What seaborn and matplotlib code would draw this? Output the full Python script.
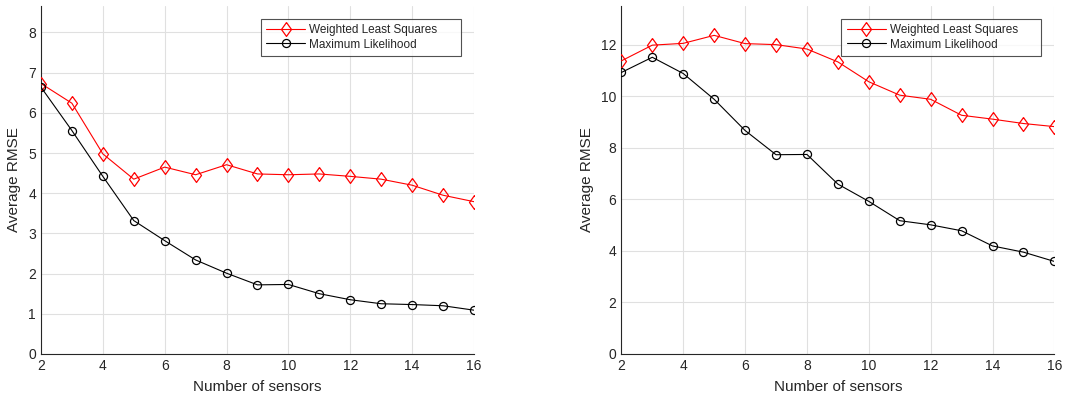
import numpy as np
import pandas as pd
import matplotlib
matplotlib.use("Agg")
import matplotlib.pyplot as plt
import seaborn as sns

sensors = list(range(2, 17))
wls_left = [6.73, 6.24, 4.98, 4.35, 4.65, 4.46, 4.71, 4.48, 4.46, 4.48, 4.42, 4.35, 4.20, 3.95, 3.79]
ml_left = [6.64, 5.56, 4.42, 3.32, 2.82, 2.34, 2.01, 1.72, 1.73, 1.50, 1.35, 1.25, 1.23, 1.20, 1.09]
wls_right = [11.37, 11.98, 12.05, 12.36, 12.04, 12.00, 11.83, 11.33, 10.56, 10.04, 9.88, 9.26, 9.11, 8.94, 8.82]
ml_right = [10.92, 11.51, 10.88, 9.88, 8.67, 7.73, 7.74, 6.59, 5.92, 5.17, 5.01, 4.78, 4.19, 3.95, 3.59]
series_names = ["Weighted Least Squares", "Maximum Likelihood"]
xticks = [2, 4, 6, 8, 10, 12, 14, 16]

sns.set_style("white")
plt.rcParams['font.family'] = ['Liberation Sans', 'DejaVu Sans']

diamond = [(0, 1), (0.72, 0), (0, -1), (-0.72, 0), (0, 1)]

fig = plt.figure(figsize=(10.78, 3.98), dpi=100)
ax1 = fig.add_axes([0.038, 0.1106, 0.4017, 0.8744])
ax2 = fig.add_axes([0.5764, 0.1106, 0.4017, 0.8744])

def draw(ax, wls, ml, ylim, yticks):
    df = pd.DataFrame({"x": sensors * 2,
                       "y": wls + ml,
                       "s": [series_names[0]] * len(sensors) + [series_names[1]] * len(sensors)})
    sns.lineplot(data=df[df.s == series_names[0]], x="x", y="y", ax=ax, color="#ff0000",
                 marker=diamond, markersize=10, markerfacecolor="none", markeredgecolor="#ff0000",
                 markeredgewidth=0.9, linewidth=0.8, label=series_names[0], zorder=3)
    sns.lineplot(data=df[df.s == series_names[1]], x="x", y="y", ax=ax, color="black",
                 marker="o", markersize=5.8, markerfacecolor="none", markeredgecolor="black",
                 markeredgewidth=0.9, linewidth=0.8, label=series_names[1], zorder=3)
    ax.set_xlim(2, 16)
    ax.set_ylim(*ylim)
    ax.set_xticks(xticks)
    ax.set_yticks(yticks)
    ax.grid(True, color="#e0e0e0", linewidth=0.8)
    ax.set_axisbelow(True)
    for s in ["top", "right"]:
        ax.spines[s].set_visible(False)
    for s in ["left", "bottom"]:
        ax.spines[s].set_color("#262626")
        ax.spines[s].set_linewidth(0.8)
    ax.tick_params(axis="both", labelsize=10, colors="#262626", direction="in", length=2, width=0.8)
    ax.set_xlabel("Number of sensors", fontsize=11, color="#262626", labelpad=5)
    ax.set_ylabel("Average RMSE", fontsize=11, color="#262626", labelpad=5)
    leg = ax.legend(loc="upper left", bbox_to_anchor=(0.508, 0.856, 0.461, 0.107), mode="expand",
                    fontsize=8.5, frameon=True,
                    fancybox=False, edgecolor="#262626", handlelength=3.3, borderpad=0.45,
                    labelspacing=0.2, handletextpad=0.35, borderaxespad=0.0)
    leg.get_frame().set_linewidth(0.8)

draw(ax1, wls_left, ml_left, (0, 8.66), list(range(0, 9)))
draw(ax2, wls_right, ml_right, (0, 13.5), list(range(0, 13, 2)))

fig.savefig("out.png", dpi=100)
